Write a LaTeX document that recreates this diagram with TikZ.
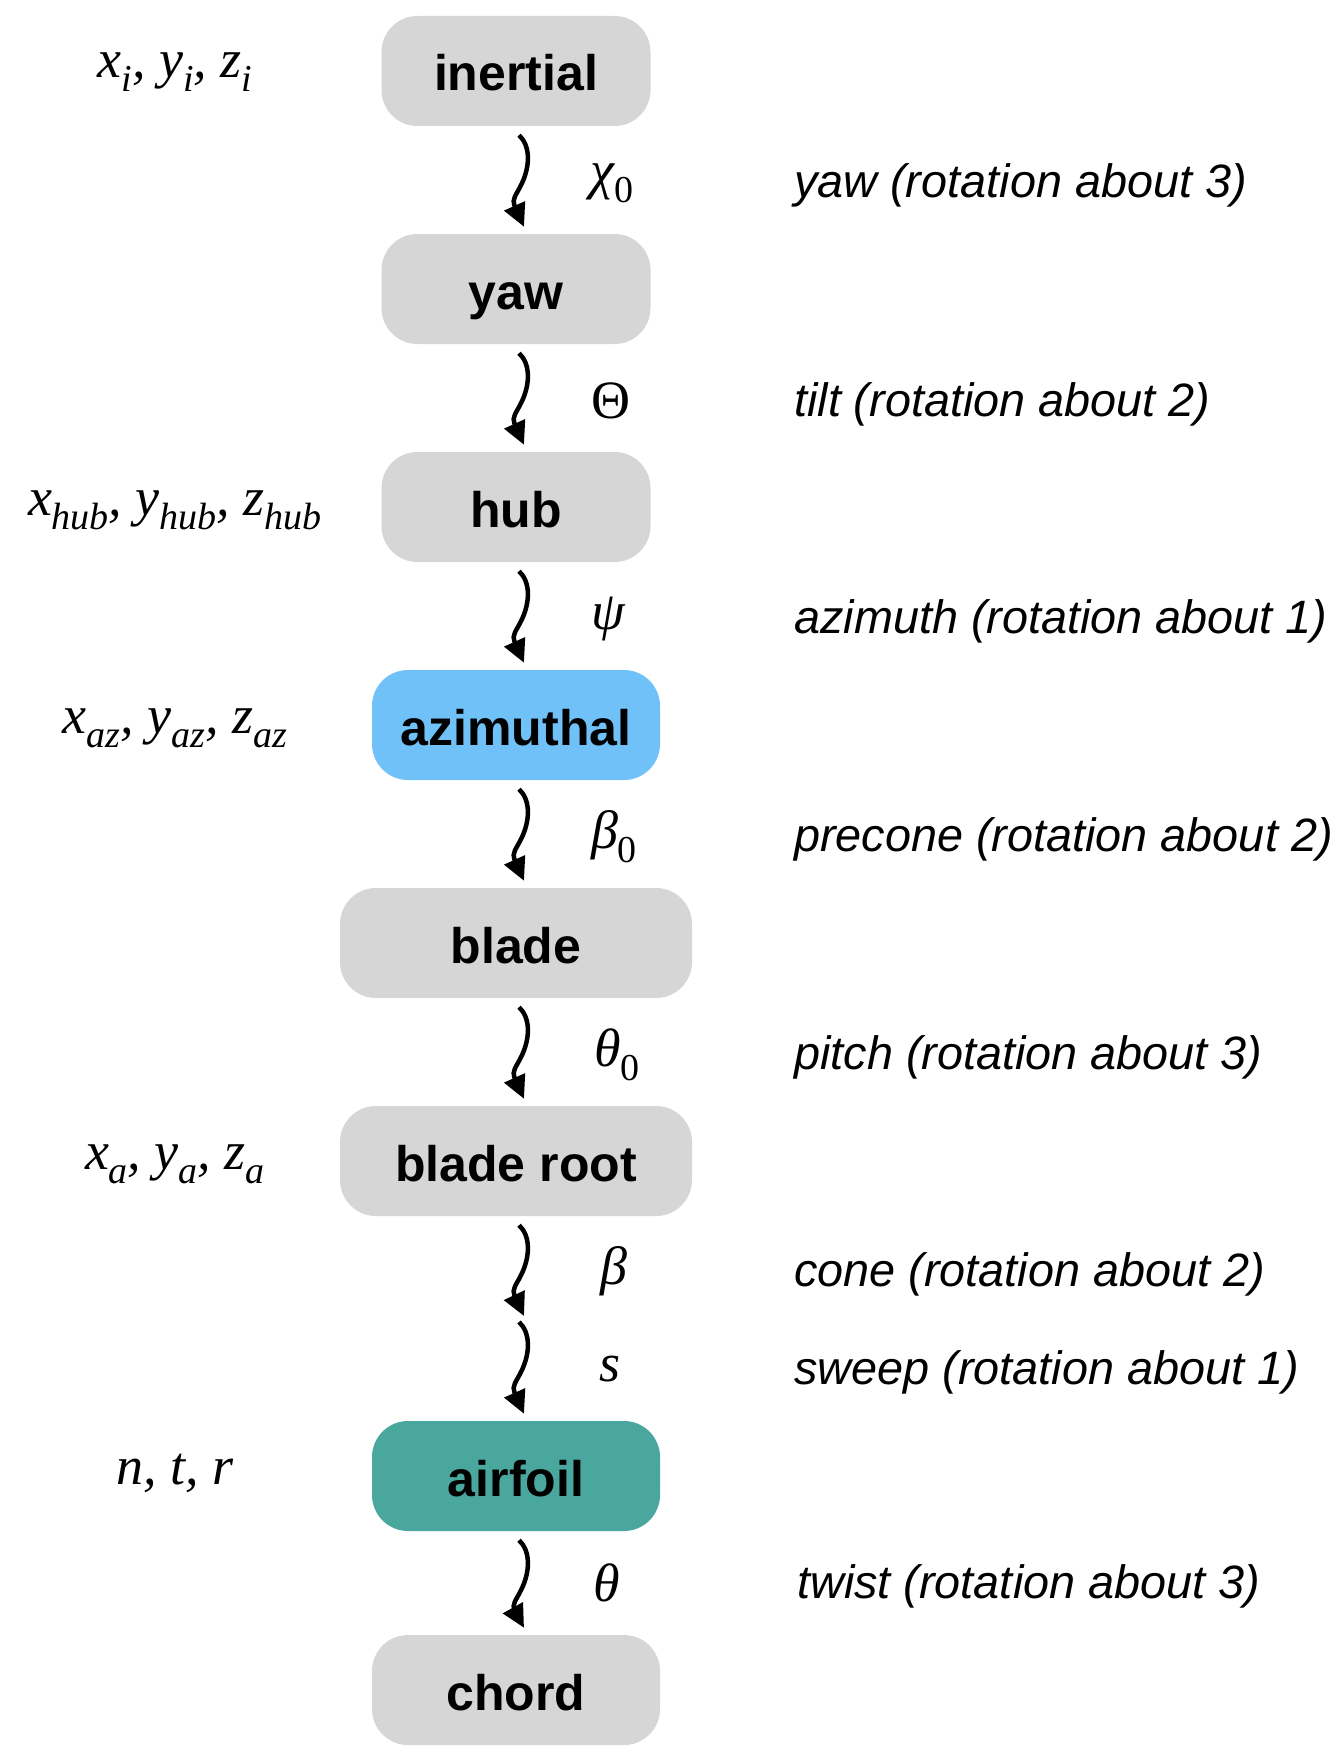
\documentclass[tikz,border=0pt]{standalone}
\usepackage{fontspec}
\setmainfont{Liberation Sans}
\newfontfamily\tms{Liberation Serif}
\usetikzlibrary{arrows.meta,calc}
\definecolor{boxgray}{HTML}{D6D6D6}
\definecolor{boxblue}{HTML}{6FC1F8}
\definecolor{boxteal}{HTML}{4AA79D}
\newcommand\lowsub[1]{\raisebox{-0.26em}{\fontsize{38}{40}\selectfont #1}}
\newcommand\mth[1]{{\tms\itshape\fontsize{54}{60}\selectfont #1}}
% squiggly connector: starts at #1, tip at #2 (tip lies 5 right and 92 below #1)
\newcommand\squig[2]{\draw[squigline] (#1) .. controls ($(#1)+(11,10)$) and ($(#1)+(12,30)$) .. ($(#1)+(2,50)$) .. controls ($(#1)+(-3,60)$) and ($(#1)+(-7.3,64)$) .. ($(#1)+(-4.5,70.5)$) -- (#2);}
\begin{document}
\begin{tikzpicture}[x=1pt,y=-1pt,
  frame/.style={rectangle, rounded corners=36pt, fill=boxgray, minimum height=110pt, inner sep=0pt,
    text height=40pt, text depth=0pt, font=\bfseries\fontsize{50}{56}\selectfont, text=black},
  narrow/.style={frame, minimum width=269pt},
  medium/.style={frame, minimum width=288pt},
  wide/.style={frame, minimum width=352pt},
  desc/.style={anchor=west, inner sep=0pt, font=\itshape\fontsize{46.8}{52}\selectfont},
  sym/.style={anchor=center, inner sep=0pt},
  coordlab/.style={anchor=center, inner sep=0pt},
  squigline/.style={line width=4.5pt, -{Triangle[length=23pt,width=22pt]}}
]
\useasboundingbox (0,0) rectangle (1342,1758);

% frames
\node[narrow] (inertial) at (516,71) {inertial};
\node[narrow] (yaw) at (516,289) {yaw};
\node[narrow] (hub) at (516,507) {hub};
\node[medium, fill=boxblue] (azimuthal) at (516,725) {azimuthal};
\node[wide] (blade) at (516,943) {blade};
\node[wide] (bladeroot) at (516,1161) {blade root};
\node[medium, fill=boxteal] (airfoil) at (516,1476) {airfoil};
\node[medium] (chord) at (516,1690) {chord};
\coordinate (swp) at (516,1319);

% connector end points
\coordinate (a1) at ([xshift=3pt,yshift=-9pt]inertial.south);
\coordinate (b1) at ([xshift=8pt,yshift=7pt]yaw.north);
\coordinate (a2) at ([xshift=3pt,yshift=-9pt]yaw.south);
\coordinate (b2) at ([xshift=8pt,yshift=7pt]hub.north);
\coordinate (a3) at ([xshift=3pt,yshift=-9pt]hub.south);
\coordinate (b3) at ([xshift=8pt,yshift=7pt]azimuthal.north);
\coordinate (a4) at ([xshift=3pt,yshift=-9pt]azimuthal.south);
\coordinate (b4) at ([xshift=8pt,yshift=7pt]blade.north);
\coordinate (a5) at ([xshift=3pt,yshift=-9pt]blade.south);
\coordinate (b5) at ([xshift=8pt,yshift=7pt]bladeroot.north);
\coordinate (a6) at ([xshift=3pt,yshift=-9pt]bladeroot.south);
\coordinate (b6) at ([xshift=8pt,yshift=3pt]swp);
\coordinate (a7) at ([xshift=3pt,yshift=-3pt]swp);
\coordinate (b7) at ([xshift=8pt,yshift=7pt]airfoil.north);
\coordinate (a8) at ([xshift=3pt,yshift=-9pt]airfoil.south);
\coordinate (b8) at ([xshift=8pt,yshift=7pt]chord.north);

\squig{a1}{b1}
\squig{a2}{b2}
\squig{a3}{b3}
\squig{a4}{b4}
\squig{a5}{b5}
\squig{a6}{b6}
\squig{a7}{b7}
\squig{a8}{b8}

% left coordinate labels
\node[coordlab] (cinertial) at (175,72) {\mth{x\lowsub{i}, y\lowsub{i}, z\lowsub{i}}};
\node[coordlab] (chub) at (175,510) {\mth{x\lowsub{hub}, y\lowsub{hub}, z\lowsub{hub}}};
\node[coordlab] (caz) at (175,728) {\mth{x\lowsub{az}, y\lowsub{az}, z\lowsub{az}}};
\node[coordlab] (croot) at (175,1164) {\mth{x\lowsub{a}, y\lowsub{a}, z\lowsub{a}}};
\node[coordlab] (cairfoil) at (175,1473) {\mth{n, t, r}};

% angle symbols
\node[sym] (schi) at (612,183) {\mth{χ\lowsub{\upshape 0}}};
\node[sym] (stheta) at (611,401) {\mth{\upshape Θ}};
\node[sym] (spsi) at (608,619) {\mth{ψ}};
\node[sym] (sbeta0) at (614,837) {\mth{β\lowsub{\upshape 0}}};
\node[sym] (stheta0) at (617,1055) {\mth{θ\lowsub{\upshape 0}}};
\node[sym] (sbeta) at (614,1271) {\mth{β}};
\node[sym] (ss) at (610,1369) {\mth{s}};
\node[sym] (stw) at (607,1583) {\mth{θ}};

% descriptions
\node[desc] (dyaw) at (794,185) {yaw (rotation about 3)};
\node[desc] (dtilt) at (794,404) {tilt (rotation about 2)};
\node[desc] (daz) at (794,621) {azimuth (rotation about 1)};
\node[desc] (dpre) at (794,839) {precone (rotation about 2)};
\node[desc] (dpitch) at (794,1057) {pitch (rotation about 3)};
\node[desc] (dcone) at (794,1274) {cone (rotation about 2)};
\node[desc] (dsweep) at (794,1372) {sweep (rotation about 1)};
\node[desc] (dtwist) at (797,1586) {twist (rotation about 3)};
\end{tikzpicture}
\end{document}
